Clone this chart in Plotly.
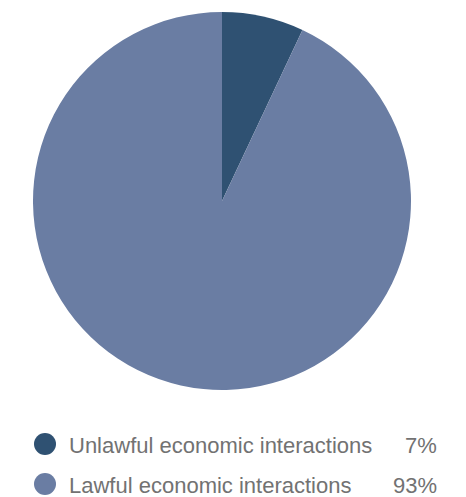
import plotly.graph_objects as go

labels = ["Unlawful economic interactions", "Lawful economic interactions"]
values = [7, 93]
pct_labels = ["7%", "93%"]
colors = ["#2f5172", "#6a7da3"]

W, H = 466, 497

def px(x):
    return x / W

def py(y):
    return 1 - y / H

fig = go.Figure()
fig.add_trace(go.Pie(
    labels=labels, values=values, sort=False, direction="clockwise", rotation=0,
    marker=dict(colors=colors, line=dict(width=0)),
    textinfo="none", hoverinfo="label+percent", showlegend=False,
    domain=dict(x=[px(33), px(411)], y=[py(390), py(12)]),
))

rows_y = [444, 484]
shapes = []
annotations = []
font = dict(family="Liberation Sans", size=22, color="#727272")
for i, (lab, pct) in enumerate(zip(labels, pct_labels)):
    cy = rows_y[i]
    shapes.append(dict(type="circle", xref="paper", yref="paper",
                       x0=px(34), x1=px(56), y0=py(cy + 11), y1=py(cy - 11),
                       fillcolor=colors[i], line=dict(width=0)))
    annotations.append(dict(x=px(68), y=py(cy + 1), xref="paper", yref="paper",
                            text=lab, showarrow=False, xanchor="left", yanchor="middle",
                            borderpad=0, font=font))
    annotations.append(dict(x=px(438), y=py(cy + 1), xref="paper", yref="paper",
                            text=pct, showarrow=False, xanchor="right", yanchor="middle",
                            borderpad=0, font=font))

fig.update_layout(
    width=W, height=H, margin=dict(l=0, r=0, t=0, b=0),
    paper_bgcolor="white", plot_bgcolor="white",
    shapes=shapes, annotations=annotations,
)
fig.write_html("out.html")
